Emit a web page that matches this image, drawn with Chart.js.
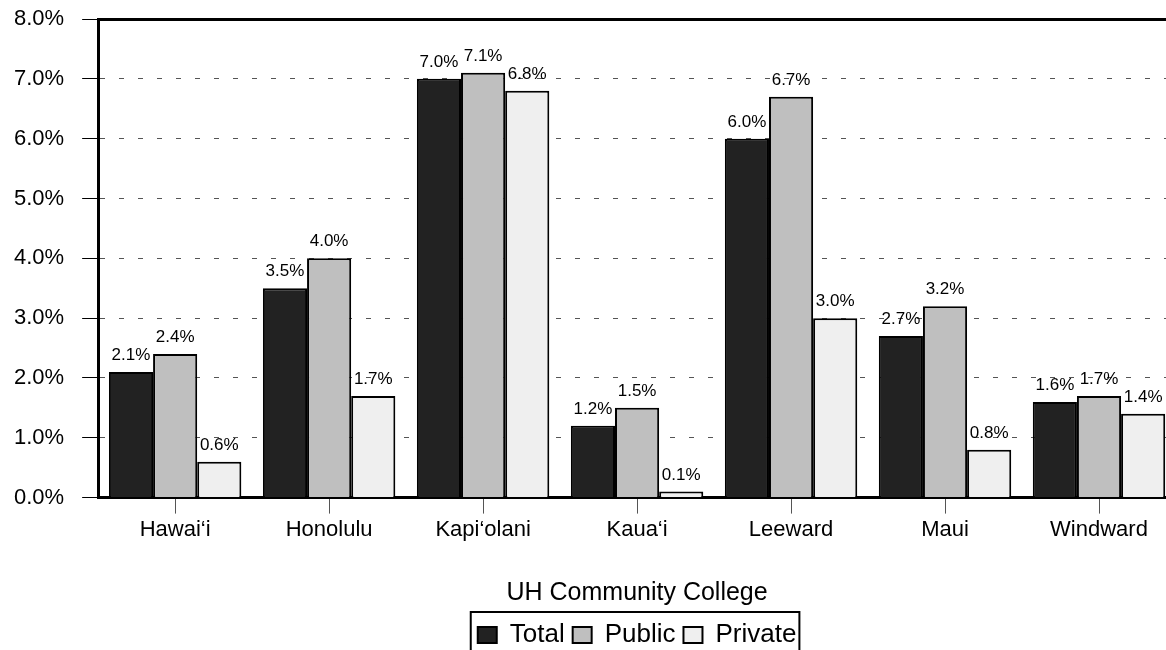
<!DOCTYPE html>
<html>
<head>
<meta charset="utf-8">
<script src="https://cdn.jsdelivr.net/npm/chart.js@4.4.1/dist/chart.umd.min.js"></script>
<style>
  html, body { margin: 0; padding: 0; background: #fff; overflow: hidden; }
  #wrap { position: absolute; left: 0; top: 0; width: 1176px; height: 658px; }
</style>
</head>
<body>
<div id="wrap"><canvas id="chart"></canvas></div>
<script>
// UH community colleges - share by school type
const colleges = ['Hawai\u2018i', 'Honolulu', 'Kapi\u2018olani', 'Kaua\u2018i', 'Leeward', 'Maui', 'Windward'];
const totalValues = [2.1, 3.5, 7.0, 1.2, 6.0, 2.7, 1.6];
const publicValues = [2.4, 4.0, 7.1, 1.5, 6.7, 3.2, 1.7];
const privateValues = [0.6, 1.7, 6.8, 0.1, 3.0, 0.8, 1.4];
const yMin = 0;
const yMax = 8;
const yStep = 1;

const FONT = "'Liberation Sans', Arial, sans-serif";
Chart.defaults.font.family = FONT;
Chart.defaults.color = '#000';

// value labels over each bar
const barLabels = {
    id: 'barLabels',
    afterDatasetsDraw(chart) {
        const ctx = chart.ctx;
        ctx.save();
        ctx.font = '17px ' + FONT;
        ctx.fillStyle = '#000';
        ctx.textAlign = 'center';
        ctx.textBaseline = 'alphabetic';
        chart.data.datasets.forEach((ds, i) => {
            chart.getDatasetMeta(i).data.forEach((bar, j) => {
                ctx.fillText(ds.data[j].toFixed(1) + '%', bar.x, bar.y - 12);
            });
        });
        ctx.restore();
    }
};

// box around the legend
const legendFrame = {
    id: 'legendFrame',
    afterDraw(chart) {
        const boxes = chart.legend && chart.legend.legendHitBoxes;
        if (!boxes || !boxes.length) return;
        const left = Math.min(...boxes.map(b => b.left)) - 7;
        const right = Math.max(...boxes.map(b => b.left + b.width)) + 3;
        const top = Math.min(...boxes.map(b => b.top)) - 10;
        const bottom = Math.max(...boxes.map(b => b.top + b.height)) + 14;
        const ctx = chart.ctx;
        ctx.save();
        ctx.strokeStyle = '#000';
        ctx.lineWidth = 2;
        ctx.strokeRect(left, top, right - left, bottom - top);
        ctx.restore();
    }
};

const isTop = c => c.tick && c.tick.value === yMax;

new Chart(document.getElementById('chart'), {
    type: 'bar',
    data: {
        labels: colleges,
        datasets: [
            { label: 'Total', data: totalValues, backgroundColor: '#222222', borderColor: '#000', borderWidth: 2 },
            { label: 'Public', data: publicValues, backgroundColor: '#bfbfbf', borderColor: '#000', borderWidth: 2 },
            { label: 'Private', data: privateValues, backgroundColor: '#efefef', borderColor: '#000', borderWidth: 2 }
        ]
    },
    options: {
        responsive: true,
        maintainAspectRatio: false,
        animation: false,
        layout: { padding: { left: -4, top: 0, right: 0, bottom: 0 } },
        datasets: { bar: { categoryPercentage: 0.86, barPercentage: 1.0 } },
        plugins: {
            tooltip: { enabled: false },
            legend: {
                position: 'bottom',
                fullSize: false,
                labels: {
                    font: { size: 26 },
                    color: '#000',
                    boxWidth: 19,
                    boxHeight: 16,
                    padding: 8
                }
            }
        },
        scales: {
            x: {
                grid: {
                    display: true,
                    drawOnChartArea: false,
                    offset: false,
                    tickLength: 16,
                    color: '#555'
                },
                border: { display: true, color: '#000', width: 3 },
                ticks: { font: { size: 22 }, color: '#000', padding: 3 },
                title: {
                    display: true,
                    text: 'UH Community College',
                    font: { size: 25 },
                    color: '#000',
                    padding: { top: 32, bottom: 6 }
                }
            },
            y: {
                min: yMin,
                max: yMax,
                afterFit: s => { s.paddingTop = 19; },
                ticks: {
                    stepSize: yStep,
                    font: { size: 22 },
                    color: '#000',
                    padding: 18,
                    callback: v => v.toFixed(1) + '%'
                },
                grid: {
                    color: c => isTop(c) ? '#000' : '#555',
                    lineWidth: c => isTop(c) ? 3 : 1,
                    tickWidth: 1,
                    tickColor: '#000',
                    tickLength: 16,
                    tickBorderDash: []
                },
                border: {
                    display: true,
                    color: '#000',
                    width: 3,
                    dash: c => isTop(c) ? [] : [5, 14]
                }
            }
        }
    },
    plugins: [barLabels, legendFrame]
});
</script>
</body>
</html>
